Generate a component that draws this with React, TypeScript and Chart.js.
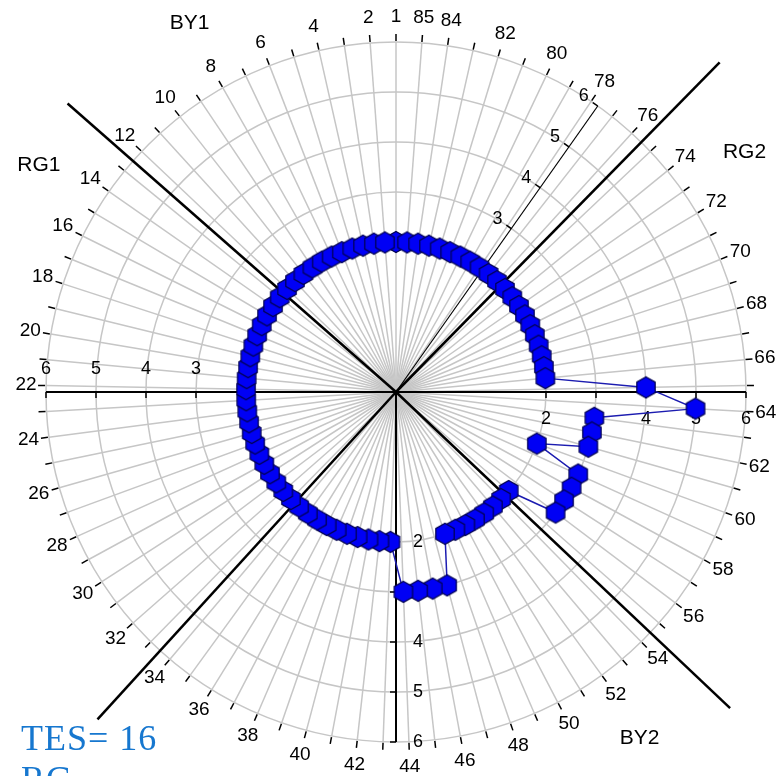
import React, { useEffect, useRef } from 'react';
import { Chart, registerables } from 'chart.js';

Chart.register(...registerables);

// Farnsworth-Munsell 100 hue: cap numbers (counter-clockwise from the top)
const capNumbers = [
  1, 2, 3, 4, 5, 6, 7, 8, 9, 10, 11, 12, 13, 14, 15, 16, 17, 18, 19, 20,
  21, 22, 23, 24, 25, 26, 27, 28, 29, 30, 31, 32, 33, 34, 35, 36, 37, 38, 39, 40,
  41, 42, 43, 44, 45, 46, 47, 48, 49, 50, 51, 52, 53, 54, 55, 56, 57, 58, 59, 60,
  61, 62, 63, 64, 65, 66, 67, 68, 69, 70, 71, 72, 73, 74, 75, 76, 77, 78, 79, 80,
  81, 82, 83, 84, 85,
];

// error score of each cap (same order as capNumbers)
const errorScores = [
  2, 2, 2, 2, 2, 2, 2, 2, 2, 2, 2, 2, 2, 2, 2, 2, 2, 2, 2, 2,
  2, 2, 2, 2, 2, 2, 2, 2, 2, 2, 2, 2, 2, 2, 2, 2, 2, 2, 2, 2,
  2, 2, 2, 3, 3, 3, 3, 2, 2, 2, 2, 2, 2, 2, 2, 3, 3, 3, 3, 2,
  3, 3, 3, 5, 4, 2, 2, 2, 2, 2, 2, 2, 2, 2, 2, 2, 2, 2, 2, 2,
  2, 2, 2, 2, 2,
];

const axisTickValues = [2, 3, 4, 5, 6];
const quadrantNames = ['BY1', 'RG1', 'BY2', 'RG2'];
const summaryLines = ['TES= 16', 'RG'];

const LABEL_FONT = "'Liberation Sans', Arial, sans-serif";

export default function App() {
  const canvasRef = useRef<HTMLCanvasElement | null>(null);

  useEffect(() => {
    document.documentElement.style.overflow = 'hidden';
    document.body.style.overflow = 'hidden';
    const canvas = canvasRef.current;
    if (!canvas) return;

    const N = capNumbers.length;
    // Chart.js radar runs clockwise: cap 1 at top, then 85, 84, ... 2
    const order = [0, ...capNumbers.slice(1).map((_, k) => N - 1 - k)];
    const labels = order.map((i) => String(capNumbers[i]));
    const values = order.map((i) => errorScores[i]);
    const showLabel = (label: string) => {
      const n = Number(label);
      return n % 2 === 0 || n === 1 || n === N;
    };

    const capToIndex = (cap: number) => (N - (cap - 1)) % N;
    const degToIndex = (deg: number) => deg / (360 / N);

    // hexagon marker
    const hex = document.createElement('canvas');
    hex.width = 24;
    hex.height = 24;
    const hctx = hex.getContext('2d')!;
    hctx.beginPath();
    for (let k = 0; k < 6; k++) {
      const a = (-90 + k * 60) * Math.PI / 180;
      const x = 12 + 10.6 * Math.cos(a);
      const y = 12 + 10.6 * Math.sin(a);
      if (k === 0) hctx.moveTo(x, y); else hctx.lineTo(x, y);
    }
    hctx.closePath();
    hctx.fillStyle = '#0000f5';
    hctx.fill();
    hctx.lineWidth = 1.2;
    hctx.strokeStyle = '#000050';
    hctx.stroke();

    const overlay = {
      id: 'fmOverlay',
      beforeDatasetsDraw(chart: any) {
        const s = chart.scales.r;
        const ctx = chart.ctx as CanvasRenderingContext2D;
        const R = s.drawingArea;
        const cx = s.xCenter;
        const cy = s.yCenter;
        const line = (a: any, b: any) => {
          ctx.beginPath();
          ctx.moveTo(a.x, a.y);
          ctx.lineTo(b.x, b.y);
          ctx.stroke();
        };
        ctx.save();
        ctx.lineCap = 'butt';
        // outer cap ticks and cap labels
        ctx.strokeStyle = '#000';
        ctx.fillStyle = '#000';
        ctx.lineWidth = 1.5;
        ctx.font = `19px ${LABEL_FONT}`;
        ctx.textAlign = 'center';
        ctx.textBaseline = 'middle';
        const capLabels = chart.data.labels as string[];
        for (let i = 0; i < N; i++) {
          line(s.getPointPosition(i, R + 1), s.getPointPosition(i, R + 8));
          if (showLabel(capLabels[i])) {
            const ang = s.getIndexAngle(i);
            const p = s.getPointPosition(i, R + 20 + 5 * Math.abs(Math.cos(ang)));
            ctx.fillText(capLabels[i], p.x, p.y);
          }
        }
        // quadrant dividing lines
        const dividers = [
          { cap: 12.5, len: 1.249 },
          { cap: 33.5, len: 1.266 },
          { cap: 54.5, len: 1.314 },
          { cap: 75.5, len: 1.32 },
        ];
        ctx.lineWidth = 2.5;
        dividers.forEach((d) => {
          line({ x: cx, y: cy }, s.getPointPosition(capToIndex(d.cap), R * d.len));
        });

        ctx.font = `18px ${LABEL_FONT}`;
        const drawAxis = (deg: number, lw: number, tickDir: { x: number; y: number }, labelOff: { x: number; y: number }) => {
          const idx = degToIndex(deg);
          ctx.lineWidth = lw;
          line({ x: cx, y: cy }, s.getPointPosition(idx, R));
          axisTickValues.forEach((v) => {
            const p = s.getPointPosition(idx, s.getDistanceFromCenterForValue(v));
            ctx.lineWidth = 1.5;
            line(p, { x: p.x + tickDir.x * 6, y: p.y + tickDir.y * 6 });
            ctx.fillText(String(v), p.x + labelOff.x, p.y + labelOff.y);
          });
        };
        // horizontal axis (left and right), vertical (down), tilted axis
        drawAxis(270, 2, { x: 0, y: 1 }, { x: 0, y: -23 });
        drawAxis(90, 2, { x: 0, y: 1 }, { x: 0, y: 27 });
        drawAxis(180, 2, { x: -1, y: 0 }, { x: 22, y: 0 });
        const tilt = 35.2;
        const tr = tilt * Math.PI / 180;
        const perp = { x: -Math.cos(tr), y: -Math.sin(tr) };
        drawAxis(tilt, 1.2, perp, { x: perp.x * 17, y: perp.y * 17 });

        // quadrant names
        ctx.font = `21px ${LABEL_FONT}`;
        const qCaps = [7.9, 14.6, 51.8, 72.9];
        quadrantNames.forEach((name, k) => {
          const p = s.getPointPosition(capToIndex(qCaps[k]), R + 73);
          ctx.fillText(name, p.x, p.y);
        });
        ctx.restore();
      },
    };

    const chart = new Chart(canvas, {
      type: 'radar',
      data: {
        labels,
        datasets: [
          {
            data: values,
            borderColor: '#1c1cb0',
            borderWidth: 1.5,
            fill: false,
            tension: 0,
            pointStyle: hex as any,
            pointRadius: 11,
          },
        ],
      },
      options: {
        responsive: false,
        animation: false,
        layout: { padding: { left: 46, top: 42, right: 38, bottom: 34 } },
        plugins: { legend: { display: false }, tooltip: { enabled: false } },
        scales: {
          r: {
            min: -1,
            max: 6,
            ticks: { display: false, stepSize: 1 },
            grid: {
              circular: true,
              color: (c: any) => (c.tick && c.tick.value >= 2 ? '#c6c6c6' : 'rgba(0,0,0,0)'),
              lineWidth: 1.5,
            },
            angleLines: { color: '#c6c6c6', lineWidth: 1.5 },
            pointLabels: { display: false },
          },
        },
      },
      plugins: [overlay],
    });
    return () => chart.destroy();
  }, []);

  return (
    <div style={{ position: 'fixed', left: 0, top: 0, width: 784, height: 776, overflow: 'hidden' }}>
      <canvas
        ref={canvasRef}
        width={784}
        height={776}
        style={{ position: 'absolute', left: 0, top: 0, width: 784, height: 776 }}
      />
      <div
        style={{
          position: 'absolute',
          left: 21,
          top: 718,
          fontFamily: "'Liberation Serif', 'Times New Roman', serif",
          fontSize: 36,
          lineHeight: '41px',
          letterSpacing: 1,
          color: '#1677cf',
          whiteSpace: 'pre',
        }}
      >
        {summaryLines.map((t) => (
          <div key={t}>{t}</div>
        ))}
      </div>
    </div>
  );
}
